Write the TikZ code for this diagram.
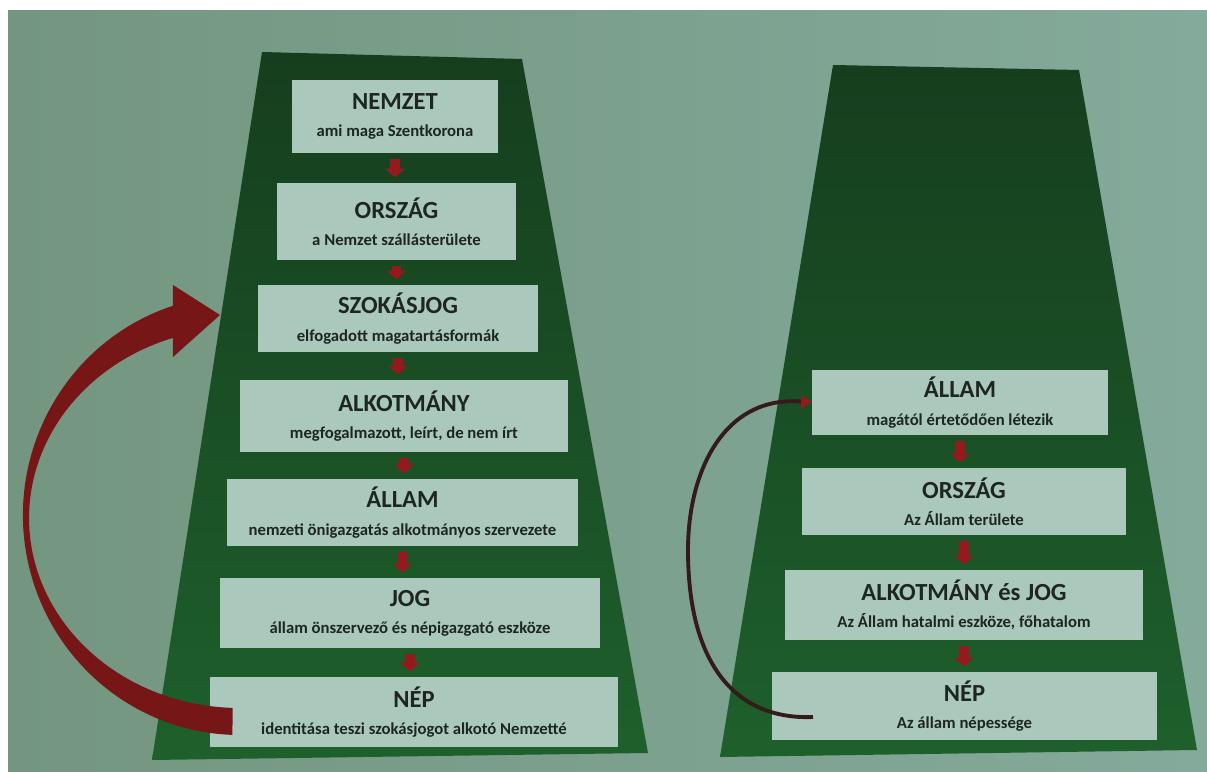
\documentclass[tikz,border=0pt]{standalone}
\usepackage{fontspec}
\setmainfont{Carlito}
\usetikzlibrary{arrows.meta,calc}

\definecolor{bgleft}{RGB}{116,150,128}
\definecolor{bgright}{RGB}{132,170,155}
\definecolor{greentop}{RGB}{22,62,30}
\definecolor{greenbot}{RGB}{30,96,44}
\definecolor{boxfill}{RGB}{170,201,188}
\definecolor{textdark}{RGB}{30,38,34}
\definecolor{bigred}{RGB}{118,22,22}
\definecolor{markred}{RGB}{150,25,30}
\definecolor{loopdark}{RGB}{52,26,26}

\newcommand{\lvl}[2]{{\fontsize{14}{16}\selectfont #1}\\#2}

\begin{document}
\begin{tikzpicture}[x=0.02cm,y=0.02cm,
  level/.style={fill=boxfill,text=textdark,inner sep=0pt,align=center,
    font=\bfseries\fontsize{9.5}{15.5}\selectfont},
  steparrow/.style={draw=markred,line width=5.5pt,shorten <=3pt,shorten >=3pt,
    -{Triangle[width=11pt,length=5pt]}},
  loopline/.style={draw=loopdark,line width=2.2pt,
    -{Triangle[width=7pt,length=6pt,color=markred]}}]
\useasboundingbox (0,0) rectangle (1207,771);
\shade[left color=bgleft,right color=bgright] (8,0) rectangle (1207,760);

\shade[top color=greentop,bottom color=greenbot] (262,719) -- (522,712) -- (648,18) -- (152,11) -- cycle;
\shade[top color=greentop,bottom color=greenbot] (833,706) -- (1079,701) -- (1197,21) -- (720,14) -- cycle;

\node[level,minimum width=4.12cm,minimum height=1.46cm] (nemzet) at (395,654.5) {\lvl{NEMZET}{ami maga Szentkorona}};
\node[level,minimum width=4.78cm,minimum height=1.54cm] (orszag) at (396.5,549.5) {\lvl{ORSZÁG}{a Nemzet szállásterülete}};
\node[level,minimum width=5.6cm,minimum height=1.34cm] (szokas) at (398,452.5) {\lvl{SZOKÁSJOG}{elfogadott magatartásformák}};
\node[level,minimum width=6.56cm,minimum height=1.44cm] (alkot) at (404,355) {\lvl{ALKOTMÁNY}{megfogalmazott, leírt, de nem írt}};
\node[level,minimum width=7.02cm,minimum height=1.34cm] (allam) at (402.5,258.5) {\lvl{ÁLLAM}{nemzeti önigazgatás alkotmányos szervezete}};
\node[level,minimum width=7.6cm,minimum height=1.4cm] (jog) at (410,158) {\lvl{JOG}{állam önszervező és népigazgató eszköze}};
\node[level,minimum width=8.16cm,minimum height=1.4cm] (nep) at (414,59) {\lvl{NÉP}{identitása teszi szokásjogot alkotó Nemzetté}};

\node[level,minimum width=5.92cm,minimum height=1.3cm] (rallam) at (960,368.5) {\lvl{ÁLLAM}{magától értetődően létezik}};
\node[level,minimum width=6.48cm,minimum height=1.34cm] (rorszag) at (964,269.5) {\lvl{ORSZÁG}{Az Állam területe}};
\node[level,minimum width=7.16cm,minimum height=1.4cm] (ralkot) at (964,166) {\lvl{ALKOTMÁNY és JOG}{Az Állam hatalmi eszköze, főhatalom}};
\node[level,minimum width=7.7cm,minimum height=1.36cm] (rnep) at (964.5,65) {\lvl{NÉP}{Az állam népessége}};

\foreach \a/\b in {nemzet/orszag,orszag/szokas,szokas/alkot,alkot/allam,allam/jog,jog/nep,rallam/rorszag,rorszag/ralkot,ralkot/rnep}
  \draw[steparrow] (\a.south) -- (\a.south |- \b.north);

\fill[bigred] (172.9,465.2) arc[start angle=108,end angle=268,x radius=217,y radius=220]
  -- (232.7,63.1) arc[start angle=268,end angle=108.6,x radius=211,y radius=190]
  -- (173,414) -- (220,456) -- (173,486) -- cycle;

\coordinate (rtail) at (813,54);
\draw[loopline] (rtail) .. controls (740,51) and (688,101) .. (688,221)
  .. controls (688,301) and (725,376) .. (rallam.west);
\end{tikzpicture}
\end{document}
